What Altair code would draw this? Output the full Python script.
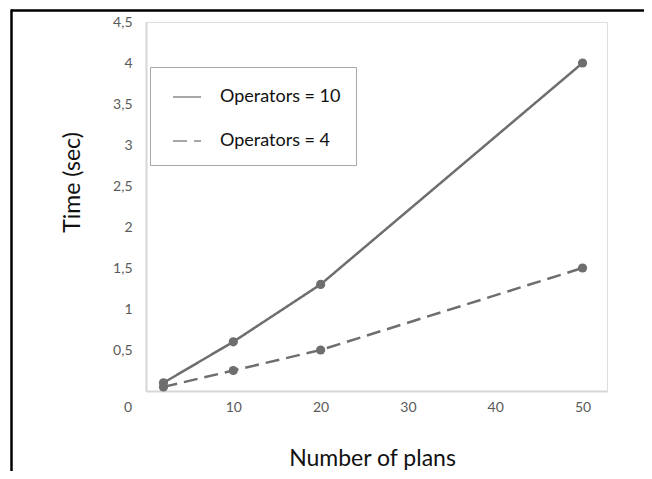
import altair as alt
import pandas as pd

plans = [2, 10, 20, 50]
ops10 = [0.1, 0.6, 1.3, 4.0]
ops4 = [0.05, 0.25, 0.5, 1.5]
series_names = ["Operators = 10", "Operators = 4"]
x_ticks = [10, 20, 30, 40, 50]
y_ticks = [0.5, 1, 1.5, 2, 2.5, 3, 3.5, 4, 4.5]

rows = []
for p, v in zip(plans, ops10):
    rows.append({"plans": p, "time": v, "series": series_names[0]})
for p, v in zip(plans, ops4):
    rows.append({"plans": p, "time": v, "series": series_names[1]})
df = pd.DataFrame(rows)

FONT = "Lato"
LINE = "#6e6e6e"
LABEL = "#5a5a5a"

x_enc = alt.X("plans:Q", scale=alt.Scale(domain=[0, 52.8], nice=False, zero=True),
              axis=alt.Axis(values=x_ticks, grid=False, ticks=False, domain=True,
                            domainColor="#d6d6d6", domainWidth=2,
                            labelColor=LABEL, labelFontSize=14, labelFont=FONT,
                            labelPadding=9,
                            title="Number of plans", titleFont=FONT, titleFontSize=23,
                            titleFontWeight="normal", titleColor="#111111",
                            titleX=226, titleY=74, titleBaseline="alphabetic",
                            titleAlign="center"))
y_enc = alt.Y("time:Q", scale=alt.Scale(domain=[0, 4.5], nice=False),
              axis=alt.Axis(values=y_ticks, grid=False, ticks=False, domain=True,
                            domainColor="#d6d6d6", domainWidth=2,
                            labelColor=LABEL, labelFontSize=14, labelFont=FONT,
                            labelPadding=14,
                            labelExpr="replace(format(datum.value, '~g'), '.', ',')",
                            title="Time (sec)", titleFont=FONT, titleFontSize=23,
                            titleFontWeight="normal", titleColor="#111111",
                            titleAngle=270, titleX=-74, titleY=160,
                            titleBaseline="middle", titleAlign="center"))

dash = alt.StrokeDash("series:N",
                      scale=alt.Scale(domain=series_names, range=[[1, 0], [14, 7]]),
                      legend=alt.Legend(title=None, orient="none", legendX=4, legendY=45,
                                        symbolType="stroke", symbolSize=784,
                                        symbolStrokeColor="#8a8a8a", symbolStrokeWidth=1.5,
                                        symbolOffset=7, labelOffset=18,
                                        labelFont=FONT, labelFontSize=18, labelColor="#111111",
                                        rowPadding=20, padding=15,
                                        strokeColor="#a8a8a8", fillColor="white"))

lines = alt.Chart(df).mark_line(color=LINE, strokeWidth=2.5).encode(
    x=x_enc, y=y_enc, strokeDash=dash, detail="series:N")
points = alt.Chart(df).mark_circle(color=LINE, size=85, opacity=1).encode(
    x="plans:Q", y="time:Q", detail="series:N")

zero_label = alt.Chart(alt.Data(values=[{}])).mark_text(
    align="right", baseline="middle", font=FONT, fontSize=14, color=LABEL, dx=-14, dy=17
).encode(x=alt.datum(0), y=alt.datum(0), text=alt.value("0"))

top_border = alt.Chart(alt.Data(values=[{}])).mark_rule(color="black", strokeWidth=2.5).encode(
    x=alt.value(-135), x2=alt.value(520), y=alt.value(-11.5))
left_border = alt.Chart(alt.Data(values=[{}])).mark_rule(color="black", strokeWidth=2.5).encode(
    x=alt.value(-134.5), y=alt.value(-12.5), y2=alt.value(480))

chart = alt.layer(lines, points, zero_label, top_border, left_border).properties(
    width=461, height=369,
    autosize=alt.AutoSizeParams(type="none"),
    padding={"left": 138, "top": 14, "right": 37, "bottom": 80},
).configure_view(stroke=None).configure(background="white")

chart.save("out.html", embed_options={"renderer": "svg", "actions": False})
